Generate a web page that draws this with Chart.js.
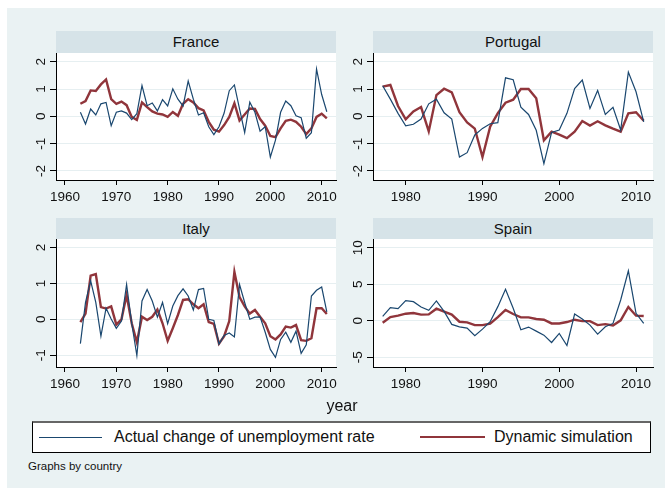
<!DOCTYPE html>
<html lang="en">
<head>
<meta charset="UTF-8">
<title>Actual vs dynamic simulation, by country</title>
<script src="https://cdn.jsdelivr.net/npm/chart.js@4.4.1/dist/chart.umd.min.js"></script>
<style>
    body {
        margin: 0;
        width: 665px;
        height: 488px;
        background: #fff;
        font-family: "Liberation Sans", Arial, sans-serif;
        overflow: hidden;
    }
    .bg {
        position: absolute;
        left: 7px; top: 8px; right: 0; bottom: 0;
        width: 658px; height: 480px;
        background: #eaf2f3;
    }
    .strip {
        position: absolute;
        background: #d6e3e8;
        text-align: center;
        font-size: 15px;
        color: #111;
    }
    canvas { position: absolute; }
    .xtitle {
        position: absolute;
        left: 292px; width: 100px; top: 397px;
        text-align: center;
        font-size: 16px;
        color: #111;
    }
    .legend {
        position: absolute;
        left: 32px; top: 421px; width: 617px; height: 29px;
        background: #fff;
        border: 1px solid #000;
        border-top: 2px solid #666;
    }
    .legend .sample { position: absolute; top: 14px; height: 0; }
    .legend .lab { position: absolute; top: 5px; font-size: 16px; color: #111; white-space: nowrap; }
    .note {
        position: absolute;
        left: 28px; top: 460px;
        font-size: 11.5px;
        color: #111;
    }
</style>
</head>
<body>
<div class="bg"></div>

<div class="strip" id="s0"></div>
<div class="strip" id="s1"></div>
<div class="strip" id="s2"></div>
<div class="strip" id="s3"></div>

<canvas id="c0"></canvas>
<canvas id="c1"></canvas>
<canvas id="c2"></canvas>
<canvas id="c3"></canvas>

<div class="xtitle">year</div>

<div class="legend">
    <div class="sample" style="left:6px;width:63px;border-top:1px solid #1a476f;"></div>
    <div class="lab" style="left:81px;">Actual change of unemployment rate</div>
    <div class="sample" style="left:387px;width:65px;border-top:2px solid #90353b;top:13px;"></div>
    <div class="lab" style="left:461px;">Dynamic simulation</div>
</div>
<div class="note">Graphs by country</div>

<script>
// years
const yearsLong = [1963, 1964, 1965, 1966, 1967, 1968, 1969, 1970, 1971, 1972,
    1973, 1974, 1975, 1976, 1977, 1978, 1979, 1980, 1981, 1982,
    1983, 1984, 1985, 1986, 1987, 1988, 1989, 1990, 1991, 1992,
    1993, 1994, 1995, 1996, 1997, 1998, 1999, 2000, 2001, 2002,
    2003, 2004, 2005, 2006, 2007, 2008, 2009, 2010, 2011];
const yearsShort = [1977, 1978, 1979, 1980, 1981, 1982, 1983, 1984, 1985, 1986,
    1987, 1988, 1989, 1990, 1991, 1992, 1993, 1994, 1995, 1996,
    1997, 1998, 1999, 2000, 2001, 2002, 2003, 2004, 2005, 2006,
    2007, 2008, 2009, 2010, 2011];

// France
const franceActual = [0.15, -0.28, 0.27, 0.05, 0.46, 0.51, -0.34, 0.15, 0.2, 0.12,
    -0.12, 0.1, 1.13, 0.39, 0.49, 0.2, 0.61, 0.38, 1.01, 0.63,
    0.38, 1.29, 0.63, 0.05, 0.13, -0.38, -0.67, -0.38, 0.12, 0.94,
    1.15, 0.27, -0.59, 0.52, 0.15, -0.54, -0.38, -1.49, -0.87, 0.15,
    0.56, 0.39, 0.02, -0.05, -0.8, -0.6, 1.73, 0.8, 0.17];
const franceSim = [0.46, 0.56, 0.95, 0.93, 1.17, 1.35, 0.63, 0.46, 0.54, 0.41,
    -0.02, -0.13, 0.51, 0.34, 0.18, 0.1, 0.07, -0.02, 0.16, 0.02,
    0.46, 0.63, 0.51, 0.3, 0.22, -0.2, -0.49, -0.56, -0.32, -0.02,
    0.48, -0.15, 0.07, 0.29, 0.27, -0.1, -0.34, -0.72, -0.76, -0.44,
    -0.16, -0.12, -0.2, -0.38, -0.65, -0.44, -0.02, 0.1, -0.07];

// Portugal
const portugalActual = [1.12, 0.63, 0.11, -0.35, -0.29, -0.1, 0.46, 0.63, 0.13, -0.1,
    -1.49, -1.33, -0.68, -0.44, -0.27, -0.23, 1.41, 1.34, 0.34, 0.07,
    -0.51, -1.73, -0.59, -0.5, 0.11, 1.02, 1.33, 0.29, 0.95, 0.07,
    0.33, -0.5, 1.62, 0.9, -0.2];
const portugalSim = [1.09, 1.15, 0.38, -0.11, 0.18, 0.34, -0.55, 0.78, 1.01, 0.88,
    0.15, -0.22, -0.45, -1.49, -0.38, 0.12, 0.5, 0.61, 1.0, 1.0,
    0.66, -0.88, -0.56, -0.67, -0.8, -0.56, -0.17, -0.34, -0.18, -0.33,
    -0.45, -0.56, 0.11, 0.15, -0.16];

// Italy
const italyActual = [-0.68, 0.47, 1.07, 0.47, -0.47, 0.31, 0.01, -0.25, -0.05, 0.97,
    -0.11, -1.01, 0.51, 0.83, 0.51, 0.06, 0.47, -0.12, 0.37, 0.66,
    0.85, 0.65, 0.26, 0.83, 0.86, 0, -0.03, -0.69, -0.45, -0.38,
    -0.49, 0.97, 0.47, 0, 0.06, 0.07, -0.36, -0.84, -1.06, -0.56,
    -0.36, -0.64, -0.33, -0.95, -0.71, 0.65, 0.81, 0.9, 0.21];
const italySim = [-0.08, 0.16, 1.22, 1.26, 0.34, 0.3, 0.36, -0.15, 0, 0.68,
    -0.11, -0.64, 0.07, -0.02, 0.07, 0.27, -0.11, -0.6, -0.25, 0.12,
    0.54, 0.56, 0.42, 0.31, 0.42, -0.08, -0.13, -0.68, -0.47, -0.05,
    1.32, 0.62, 0.36, 0.16, 0.26, 0.07, -0.11, -0.47, -0.56, -0.42,
    -0.2, -0.23, -0.16, -0.58, -0.6, -0.53, 0.31, 0.31, 0.15];

// Spain
const spainActual = [0.6, 1.79, 1.65, 2.75, 2.61, 1.88, 1.42, 2.71, 1.28, -0.5,
    -0.83, -1.01, -2.06, -1.15, -0.14, 1.93, 4.31, 1.7, -1.24, -0.87,
    -1.42, -1.97, -2.98, -1.74, -3.39, 0.92, 0.23, -0.6, -1.83, -0.83,
    -0.37, 2.84, 6.83, 1.01, -0.37];
const spainSim = [-0.28, 0.5, 0.69, 0.96, 1.06, 0.83, 0.87, 1.65, 1.24, 0.83,
    -0.14, -0.23, -0.6, -0.6, -0.41, 0.5, 1.47, 0.92, 0.46, 0.46,
    0.23, 0.14, -0.37, -0.37, -0.18, 0.14, -0.05, -0.05, -0.6, -0.46,
    -0.64, 0.05, 1.88, 0.69, 0.64];

// tick labels
const xTicksLong = [1960, 1970, 1980, 1990, 2000, 2010];
const xTicksShort = [1980, 1990, 2000, 2010];
const yTicksSmall = [-2, -1, 0, 1, 2];
const yTicksItaly = [-1, 0, 1, 2];
const yTicksSpain = [-5, 0, 5, 10];

const seriesNames = ['Actual change of unemployment rate', 'Dynamic simulation'];
const countries = ['France', 'Portugal', 'Italy', 'Spain'];

const FONT = '"Liberation Sans", Arial, sans-serif';
const Y_AXIS_W = 36, X_AXIS_H = 32, PAD_R = 9;

// page layout of each panel: plot rect [left, top, right, bottom], strip top
const panels = [
    { rect: [56, 53, 336, 180], stripTop: 31, xr: [1958.25, 2012.79], yr: [-2.33, 2.32],
      years: yearsLong, a: franceActual, s: franceSim, xt: xTicksLong, yt: yTicksSmall },
    { rect: [373, 53, 653, 180], stripTop: 31, xr: [1975.74, 2012.21], yr: [-2.33, 2.32],
      years: yearsShort, a: portugalActual, s: portugalSim, xt: xTicksShort, yt: yTicksSmall },
    { rect: [56, 239, 336, 367], stripTop: 217.5, xr: [1958.25, 2012.79], yr: [-1.33, 2.24],
      years: yearsLong, a: italyActual, s: italySim, xt: xTicksLong, yt: yTicksItaly },
    { rect: [373, 239, 653, 367], stripTop: 217.5, xr: [1975.74, 2012.21], yr: [-6.33, 11.18],
      years: yearsShort, a: spainActual, s: spainSim, xt: xTicksShort, yt: yTicksSpain }
];

// white plot region
const plotBg = {
    id: 'plotBg',
    beforeDraw(chart) {
        const a = chart.chartArea, ctx = chart.ctx;
        ctx.save();
        ctx.fillStyle = '#fff';
        ctx.fillRect(a.left, a.top, a.right - a.left, a.bottom - a.top);
        ctx.restore();
    }
};

// y labels are written vertically, like Stata does
const rotYLabels = {
    id: 'rotYLabels',
    afterDraw(chart) {
        const sc = chart.scales.y, ctx = chart.ctx;
        ctx.save();
        ctx.fillStyle = '#111';
        ctx.font = '13.5px ' + FONT;
        ctx.textAlign = 'center';
        ctx.textBaseline = 'middle';
        sc.ticks.forEach(t => {
            const y = sc.getPixelForValue(t.value);
            ctx.save();
            ctx.translate(sc.right - 15, y);
            ctx.rotate(-Math.PI / 2);
            ctx.fillText(String(t.value), 0, 0);
            ctx.restore();
        });
        ctx.restore();
    }
};

function pts(years, vals) {
    return years.map((yr, i) => ({ x: yr, y: vals[i] }));
}

panels.forEach((p, i) => {
    const [L, T, R, B] = p.rect;

    const strip = document.getElementById('s' + i);
    strip.style.left = L + 'px';
    strip.style.top = p.stripTop + 'px';
    strip.style.width = (R - L) + 'px';
    strip.style.height = (T - p.stripTop) + 'px';
    strip.style.lineHeight = (T - p.stripTop) + 'px';
    strip.textContent = countries[i];

    const cv = document.getElementById('c' + i);
    const w = R - L + Y_AXIS_W + PAD_R, h = B - T + X_AXIS_H;
    cv.width = w; cv.height = h;
    cv.style.left = (L - Y_AXIS_W) + 'px';
    cv.style.top = T + 'px';
    cv.style.width = w + 'px';
    cv.style.height = h + 'px';

    new Chart(cv, {
        type: 'line',
        data: {
            datasets: [
                { label: seriesNames[0], data: pts(p.years, p.a), borderColor: '#1a476f',
                  borderWidth: 1.2, pointRadius: 0, tension: 0 },
                { label: seriesNames[1], data: pts(p.years, p.s), borderColor: '#90353b',
                  borderWidth: 2.4, pointRadius: 0, tension: 0 }
            ]
        },
        options: {
            responsive: false,
            animation: false,
            layout: { padding: { top: 0, right: PAD_R, bottom: 0, left: 0 } },
            plugins: { legend: { display: false }, tooltip: { enabled: false } },
            scales: {
                x: {
                    type: 'linear',
                    min: p.xr[0], max: p.xr[1],
                    afterBuildTicks: sc => { sc.ticks = p.xt.map(v => ({ value: v })); },
                    afterFit: sc => { sc.height = X_AXIS_H; },
                    grid: { drawOnChartArea: false, tickLength: 5, tickColor: '#000' },
                    border: { color: '#000', width: 1 },
                    ticks: { color: '#111', font: { size: 13.5, family: FONT }, padding: 4,
                             maxRotation: 0, autoSkip: false, callback: v => String(v) }
                },
                y: {
                    type: 'linear',
                    min: p.yr[0], max: p.yr[1],
                    afterBuildTicks: sc => { sc.ticks = p.yt.map(v => ({ value: v })); },
                    afterFit: sc => { sc.width = Y_AXIS_W; },
                    grid: { color: '#e6eff1', lineWidth: 1, tickLength: 6, tickColor: '#000' },
                    border: { color: '#000', width: 1 },
                    ticks: { display: false }
                }
            }
        },
        plugins: [plotBg, rotYLabels]
    });
});
</script>
</body>
</html>
